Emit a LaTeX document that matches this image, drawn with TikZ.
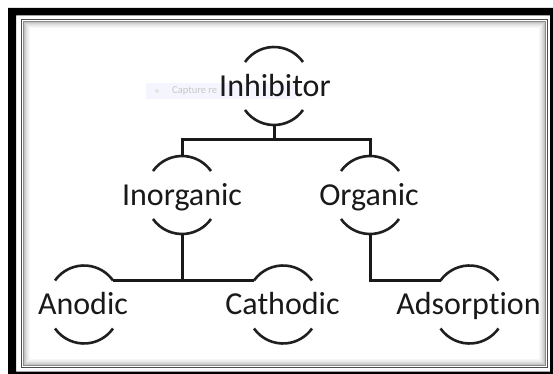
\documentclass[tikz,border=0pt]{standalone}
\usepackage{fontspec}
\setmainfont[Ligatures=NoCommon]{Carlito}
\begin{document}
\begin{tikzpicture}[x=1pt,y=1pt,
  lbl/.style={anchor=base,inner sep=0pt,font=\fontsize{32}{36}\selectfont,text=black!90},
  arcline/.style={line width=2.6pt,black!88},
  conn/.style={line width=3pt,black!90},
  brk/.pic={
    \draw[arcline] (-29,24) arc[start angle=144.7,end angle=35.3,radius=35.53];
    \draw[arcline] (-29,-24) arc[start angle=215.3,end angle=324.7,radius=35.53];
    \coordinate (-top) at (0,39);
    \coordinate (-bot) at (0,-39);
    \coordinate (-tl) at (-29,24);
    \coordinate (-tr) at (29,24);
  }]
\useasboundingbox (0,0) rectangle (553,-374);
\clip (0,0) rectangle (553,-374);
% outer black frame
\fill[black,even odd rule] (8,-8) rectangle (562,-382) (16,-15.5) rectangle (550,-371.5);
% inner panel with shadow
\fill[white] (21,-19) rectangle (548,-368);
\foreach \i/\c in {8/3,7/6,6/9,5/13,4/18,3/24,2/32}{
  \draw[black!\c,line width=1.2pt] (21.5+\i,-19.5-\i) rectangle (547.5-\i,-367.5+\i);
}
\draw[black!45,line width=1pt] (23.5,-21.5) rectangle (545.5,-365.5);
\draw[black!70,line width=1pt] (21.5,-19.5) rectangle (547.5,-367.5);
% faint capture overlay
\fill[blue!4] (146,-83) rectangle (296,-99);
\fill[black!10] (157,-91) circle (2);
\node[anchor=west,inner sep=0pt,text=black!22,font=\fontsize{10.5}{12}\selectfont] (cap) at (172,-91) {Capture re};
% nodes
\pic (inh) at (274,-86) {brk};
\pic (inorg) at (182,-195) {brk};
\pic (org) at (370,-195) {brk};
\pic (anod) at (84,-304.5) {brk};
\pic (cath) at (283,-304.5) {brk};
\pic (ads) at (469.5,-304.5) {brk};
\node[lbl] (tinh) at (275,-96.3) {Inhibitor};
\node[lbl] (tinorg) at (182,-205.3) {Inorganic};
\node[lbl] (torg) at (369,-205.3) {Organic};
\node[lbl] (tanod) at (83,-314.8) {Anodic};
\node[lbl] (tcath) at (282.5,-314.8) {Cathodic};
\node[lbl] (tads) at (468.5,-314.8) {Adsorption};
% connectors
\coordinate (j1) at (0,-140);
\draw[conn] (inh-bot) -- (inh-bot |- j1);
\draw[conn] (inorg-top) -- (inorg-top |- j1) -- (org-top |- j1) -- (org-top);
\draw[conn] (inorg-bot) -- (inorg-bot |- anod-tr);
\draw[conn] (anod-tr) -- (cath-tl);
\draw[conn] (org-bot) |- (ads-tl);
\end{tikzpicture}
\end{document}
